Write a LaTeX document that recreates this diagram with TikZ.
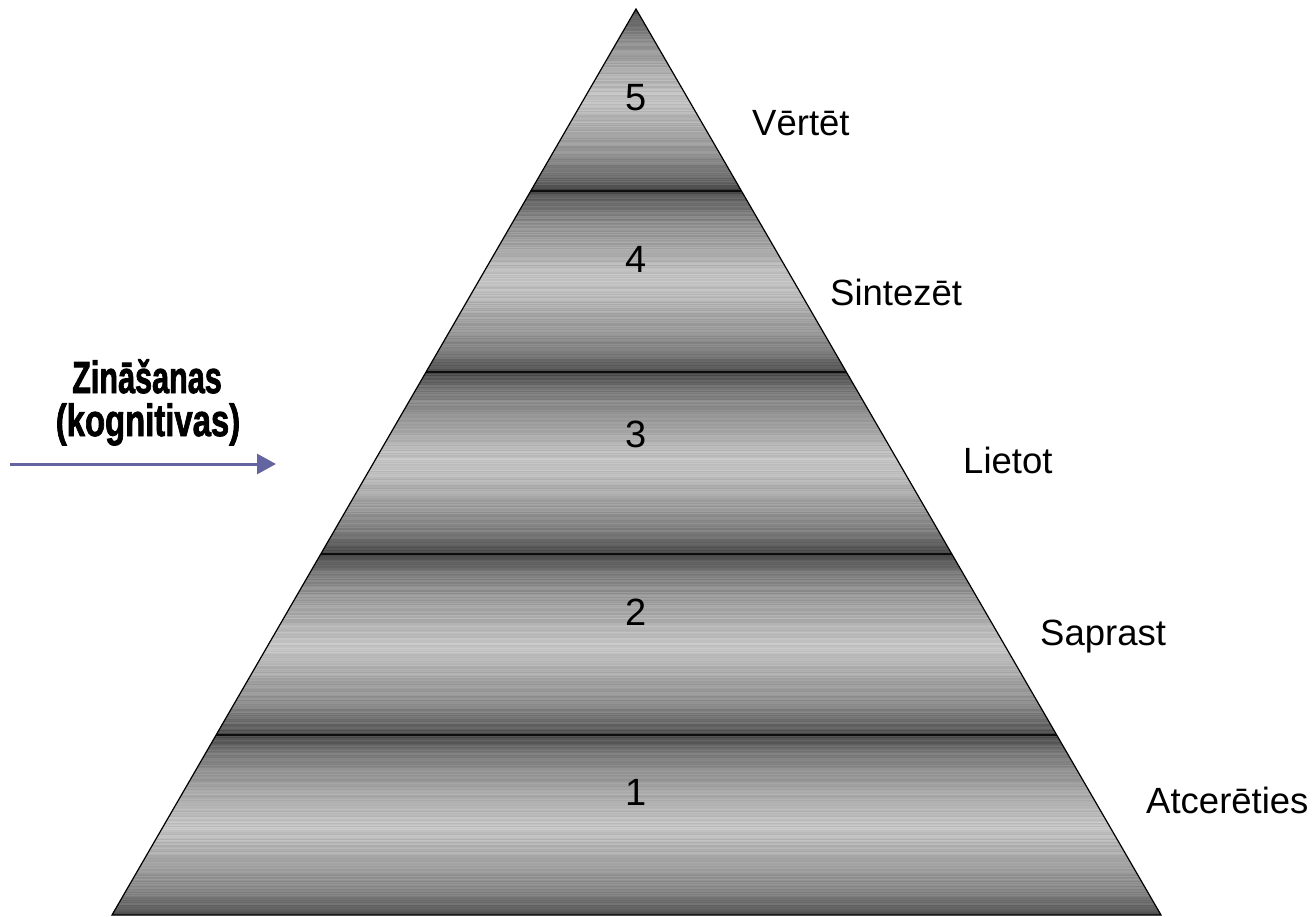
\documentclass[tikz,border=0pt]{standalone}
\usepackage{fontspec}
\setmainfont{Liberation Sans}
\newfontfamily\heavy{Liberation Sans}[BoldFeatures={FakeBold=2}]
\usetikzlibrary{arrows.meta}
\definecolor{arrowblue}{RGB}{100,100,160}
\tikzset{
  lvl/.style={font=\fontsize{38}{40}\selectfont, anchor=base, inner sep=0pt},
  verb/.style={font=\fontsize{36.5}{40}\selectfont, anchor=base west, inner sep=0pt},
  heavytxt/.style={font=\heavy\bfseries\fontsize{45}{48}\selectfont, anchor=base, inner sep=0pt},
  outline/.style={draw=black, line width=1.2pt},
  knowarrow/.style={draw=arrowblue, line width=3pt, -{Triangle[length=19pt,width=20pt]}}
}
\begin{document}
\begin{tikzpicture}[x=1pt,y=-1pt]
\useasboundingbox (0,0) rectangle (1314,916);
\coordinate (apex) at (636,9);
\coordinate (bl) at (112,915);
\coordinate (br) at (1161,915);
\pgfmathsetseed{7}
\begin{scope}
  \clip (apex) -- (bl) -- (br) -- cycle;
  \foreach \i in {0,...,907}{
    \pgfmathsetmacro\t{mod(\i,181.4)/181.4}
    \pgfmathsetmacro\d{min(\t,1-\t)}
    \pgfmathsetmacro\g{\d*181.4<1.0 ? 0.05 : max(0,min(1,0.22+0.55*sqrt(2*\d)+(rnd-0.5)*0.09))}
    \definecolor{stripe}{gray}{\g}
    \fill[stripe] (100,9+\i) rectangle (1200,10.3+\i);
  }
\end{scope}
\draw[outline] (apex) -- (bl) -- (br) -- cycle;

\node[lvl] (n5) at (636,110) {5};
\node[lvl] (n4) at (636,272) {4};
\node[lvl] (n3) at (636,447) {3};
\node[lvl] (n2) at (636,625) {2};
\node[lvl] (n1) at (636,805) {1};

\node[verb] (v5) at (752,135) {Vērtēt};
\node[verb] (v4) at (830,305) {Sintezēt};
\node[verb] (v3) at (963,473) {Lietot};
\node[verb] (v2) at (1040,645) {Saprast};
\node[verb] (v1) at (1146,813) {Atcerēties};

\node[heavytxt] (z1) at (147,393) {\scalebox{0.68}[1]{Zināšanas}};
\node[heavytxt] (z2) at (148,436) {\scalebox{0.73}[1]{(kognitivas)}};

\coordinate (as) at (10,464);
\coordinate (ae) at (276,464);
\draw[knowarrow] (as) -- (ae);
\end{tikzpicture}
\end{document}
